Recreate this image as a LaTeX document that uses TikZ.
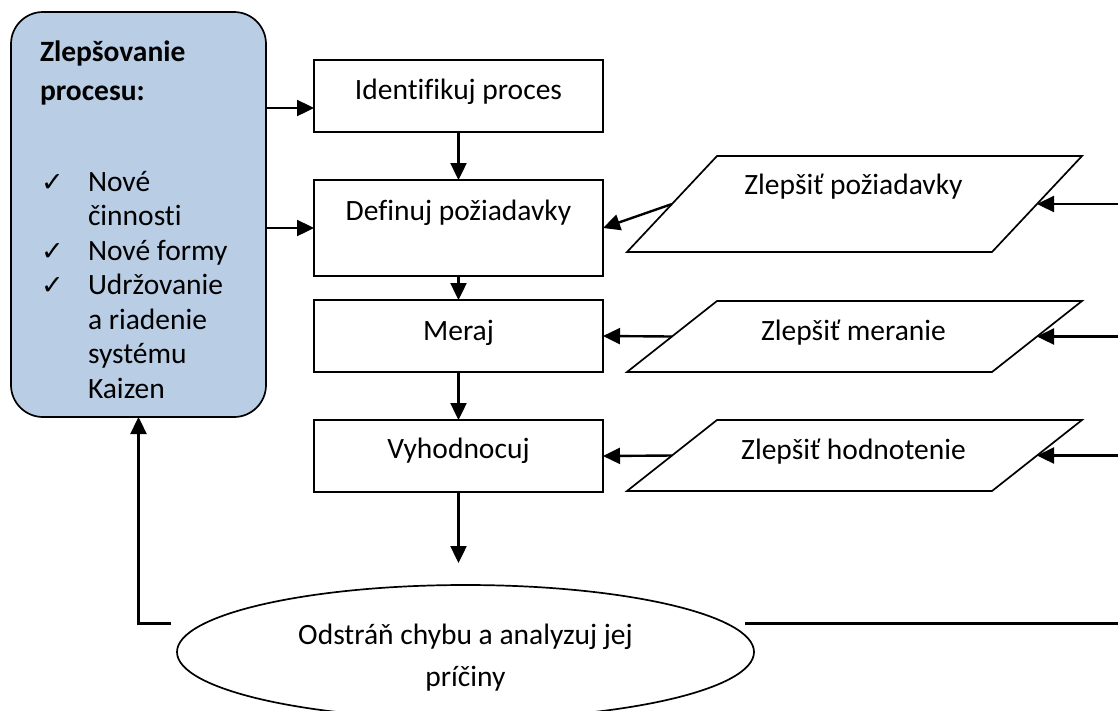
\documentclass[tikz,border=0pt]{standalone}
\usepackage{fontspec}
\setmainfont{Carlito}[Ligatures=NoCommon]
\newfontfamily\symfont{DejaVu Sans}
\usetikzlibrary{arrows.meta,shapes.geometric}
\definecolor{lbfill}{RGB}{185,205,229}
\newcommand\tickmark{\hspace*{1pt}{\symfont\fontsize{27}{27}\selectfont ✓}}
\begin{document}
\begin{tikzpicture}[x=1pt,y=-1pt,
  every node/.style={inner sep=0pt,outer sep=0pt},
  txt/.style={anchor=base,font=\fontsize{29.5}{35}\selectfont},
  procbox/.style={draw,line width=2.2pt,minimum width=289pt},
  para/.style={draw,line width=1.7pt,minimum width=365pt},
  arr/.style={line width=2.4pt,-{Triangle[length=17pt,width=16pt]}},
  plain/.style={line width=2.6pt},
]
\useasboundingbox (0,0) rectangle (1118,710);

% side panel: improvement of the process
\node[draw,line width=1.7pt,fill=lbfill,rounded corners=32pt,
      minimum width=255pt,minimum height=405pt] (lb) at (138.5,214.5) {};
\node[anchor=base west,font=\fontsize{29.5}{34.5}\selectfont] (lbT) at (40,61) {%
\begin{tabular}[t]{@{}p{48pt}@{}l@{}}
\multicolumn{2}{@{}l@{}}{\textbf{Zlepšovanie}}\\[4.5pt]
\multicolumn{2}{@{}l@{}}{\textbf{procesu:}}\\[56.5pt]
\tickmark & Nové\\
 & činnosti\\
\tickmark & Nové formy\\
\tickmark & Udržovanie\\
 & a riadenie\\
 & systému\\
 & Kaizen
\end{tabular}};

% main process steps
\node[procbox,minimum height=72pt] (ident) at (458.5,96) {};
\node[txt] (identT) at (458.5,99.5) {Identifikuj proces};
\node[procbox,minimum height=96pt] (def) at (458.5,228) {};
\node[txt] (defT) at (458.5,220.5) {Definuj požiadavky};
\node[procbox,minimum height=72pt] (meraj) at (458.5,336) {};
\node[txt] (merajT) at (458.5,340) {Meraj};
\node[procbox,minimum height=72pt] (vyh) at (458.5,456) {};
\node[txt] (vyhT) at (458.5,458.5) {Vyhodnocuj};

% improvement inputs
\node[para,minimum height=96pt,xslant=0.9375] (p1) at (854.5,204) {};
\node[txt] (p1T) at (853.5,194) {Zlepšiť požiadavky};
\node[para,minimum height=71pt,xslant=1.2676] (p2) at (854.5,336.5) {};
\node[txt] (p2T) at (853.5,340) {Zlepšiť meranie};
\node[para,minimum height=71pt,xslant=1.2676] (p3) at (854.5,455.5) {};
\node[txt] (p3T) at (853.5,459) {Zlepšiť hodnotenie};

% error handling
\node[ellipse,draw,line width=1.7pt,minimum width=577pt,minimum height=134pt] (el) at (465.5,652) {};
\node[align=center,font=\fontsize{29.5}{42}\selectfont] (elT) at (465.5,658)
  {Odstráň chybu a analyzuj jej\\príčiny};

% loose ends of connectors
\coordinate (vEnd) at (458.5,563);
\coordinate (r1) at (1125,204);
\coordinate (r2) at (1125,336.5);
\coordinate (r3) at (1125,455.5);
\coordinate (fbL) at (171,623.5);
\coordinate (fbR) at (745,623.5);
\coordinate (fbRe) at (1125,623.5);

% connectors
\draw[arr] (ident) -- (def);
\draw[arr] (def) -- (meraj);
\draw[arr] (meraj) -- (vyh);
\draw[arr] (vyh) -- (vEnd);
\draw[arr] (lb.east |- 0,108) -- (ident.west |- 0,108);
\draw[arr] (lb.east |- def.west) -- (def.west);
\draw[arr] (p1.west) -- (def.east);
\draw[arr] (p2.west) -- (meraj.east);
\draw[arr] (p3.west) -- (vyh.east);
\draw[arr] (r1) -- (p1.east);
\draw[arr] (r2) -- (p2.east);
\draw[arr] (r3) -- (p3.east);
\draw[arr] (fbL) -| (lb.south);
\draw[plain] (fbR) -- (fbRe);
\end{tikzpicture}
\end{document}
